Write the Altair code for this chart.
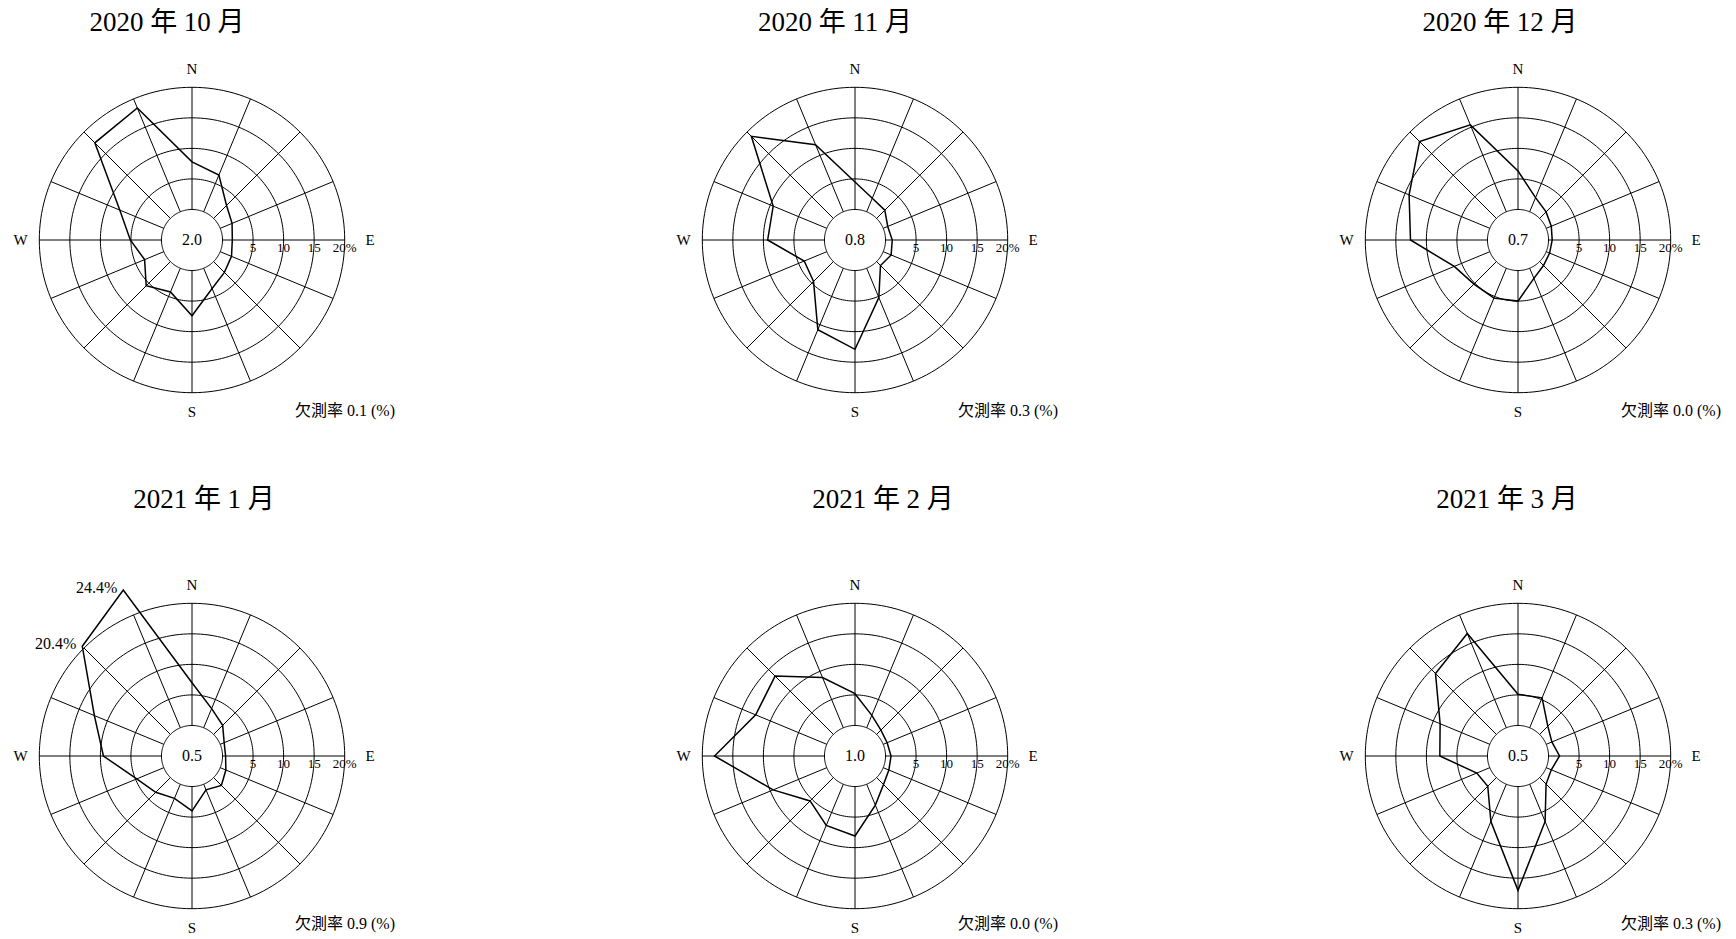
import altair as alt
import pandas as pd

# ---------------- data ----------------
directions = ["N", "NNE", "NE", "ENE", "E", "ESE", "SE", "SSE",
              "S", "SSW", "SW", "WSW", "W", "WNW", "NW", "NNW"]
titles = ["2020 年 10 月", "2020 年 11 月", "2020 年 12 月",
          "2021 年 1 月", "2021 年 2 月", "2021 年 3 月"]

freq_2020_10 = [7.8, 6.5, 3.0, 2.1, 1.6, 2.0, 2.5, 3.6, 7.4, 4.2, 5.6, 3.4, 5.1, 7.8, 17.5, 18.4]
freq_2020_11 = [4.5, 2.4, 1.9, 0.8, 1.1, 1.4, 0.9, 5.2, 12.9, 10.9, 4.6, 4.0, 9.3, 9.5, 19.0, 11.9]
freq_2020_12 = [6.3, 2.5, 1.5, 0.9, 0.6, 0.6, 0.9, 1.8, 5.0, 5.3, 5.2, 6.3, 12.6, 14.3, 17.8, 15.4]
freq_2021_01 = [7.0, 3.4, 2.1, 0.7, 0.5, 1.0, 1.8, 1.0, 4.0, 2.5, 3.4, 4.8, 9.5, 12.3, 20.4, 24.4]
freq_2021_02 = [5.2, 2.2, 1.0, 0.7, 0.9, 1.0, 1.6, 3.7, 8.1, 7.3, 5.4, 9.5, 18.0, 12.6, 13.5, 8.9]
freq_2021_03 = [5.1, 5.3, 1.9, 1.0, 1.8, 0.9, 1.5, 6.6, 17.0, 6.6, 2.0, 2.3, 7.8, 8.8, 14.1, 16.7]
freqs = [freq_2020_10, freq_2020_11, freq_2020_12, freq_2021_01, freq_2021_02, freq_2021_03]

calm = [2.0, 0.8, 0.7, 0.5, 1.0, 0.5]
missing = [0.1, 0.3, 0.0, 0.9, 0.0, 0.3]

ring_values = [0, 5, 10, 15, 20]
tick_labels = ["5", "10", "15", "20%"]
cardinal = ["N", "E", "S", "W"]
cardinal_dir = [0, 4, 8, 12]

# ---------------- layout / style ----------------
PX = 6.108          # pixels per percent
R0 = 5              # radius of calm circle, in percent units
FONT = "Liberation Serif, Noto Sans CJK JP"
COL_W = [663, 663, 394]
ROW_H = [470, 453]
CX = 184
ROW_CY = [231, 277]
TITLE_UP = [217, 256]
BOTTOM_DOWN = [171, 168]
TITLE_DX = [-25, -20, -18, 12, 28, -11]


def build_panel(k, width, height, cy, title_up, bottom_down, title_dx):
    xs = alt.Scale(domain=[-CX / PX, (width - CX) / PX], nice=False, zero=False)
    ys = alt.Scale(domain=[-(height - cy) / PX, cy / PX], nice=False, zero=False)
    X = alt.X("x:Q", scale=xs, axis=None)
    Y = alt.Y("y:Q", scale=ys, axis=None)

    ring_df = pd.DataFrame([(rv, a) for rv in ring_values for a in range(0, 360, 2)],
                           columns=["ring", "deg"])
    rings = alt.Chart(ring_df).transform_calculate(
        x=f"({R0}+datum.ring)*sin(datum.deg*PI/180)",
        y=f"({R0}+datum.ring)*cos(datum.deg*PI/180)",
    ).mark_line(color="black", strokeWidth=1, interpolate="linear-closed").encode(
        x=X, y=Y, detail="ring:N", order="deg:Q")

    rmax = R0 + ring_values[-1]
    spoke_df = pd.DataFrame({"dir": list(range(16)), "name": directions})
    spokes = alt.Chart(spoke_df).transform_calculate(
        x=f"{R0}*sin(datum.dir*PI/8)", y=f"{R0}*cos(datum.dir*PI/8)",
        x2=f"{rmax}*sin(datum.dir*PI/8)", y2=f"{rmax}*cos(datum.dir*PI/8)",
    ).mark_rule(color="black", strokeWidth=1).encode(
        x=X, y=Y, x2="x2:Q", y2="y2:Q")

    poly_df = pd.DataFrame({"dir": list(range(16)), "name": directions, "value": freqs[k]})
    poly_base = alt.Chart(poly_df).transform_calculate(
        x=f"({R0}+datum.value)*sin(datum.dir*PI/8)",
        y=f"({R0}+datum.value)*cos(datum.dir*PI/8)",
    )
    poly = poly_base.mark_line(color="black", strokeWidth=1.5,
                               interpolate="linear-closed").encode(x=X, y=Y, order="dir:Q")
    big = poly_base.transform_filter(f"datum.value > {ring_values[-1]}").transform_calculate(
        label="format(datum.value, '.1f') + '%'"
    ).mark_text(font=FONT, fontSize=16, align="right", baseline="middle", dx=-6, dy=-2,
                color="black").encode(x=X, y=Y, text="label:N")

    card_df = pd.DataFrame({"name": cardinal, "dir": cardinal_dir})
    cards = alt.Chart(card_df).transform_calculate(
        r=f"datum.dir == 4 ? {178 / PX} : {171.5 / PX}",
        x="datum.r*sin(datum.dir*PI/8)", y="datum.r*cos(datum.dir*PI/8)",
    ).mark_text(font=FONT, fontSize=15, align="center", baseline="middle",
                color="black").encode(x=X, y=Y, text="name:N")

    tick_df = pd.DataFrame({"ring": ring_values[1:], "label": tick_labels})
    ticks = alt.Chart(tick_df).transform_calculate(
        x=f"{R0}+datum.ring", y="0",
    ).mark_text(font=FONT, fontSize=13, align="center", baseline="top", dy=2,
                color="black").encode(x=X, y=Y, text="label:N")

    calm_df = pd.DataFrame({"calm": [calm[k]]})
    calm_t = alt.Chart(calm_df).transform_calculate(
        x="0", y="0", label="format(datum.calm, '.1f')",
    ).mark_text(font=FONT, fontSize=16, align="center", baseline="middle",
                color="black").encode(x=X, y=Y, text="label:N")

    miss_df = pd.DataFrame({"miss": [missing[k]]})
    miss_t = alt.Chart(miss_df).transform_calculate(
        x=f"{203 / PX}", y=f"{-bottom_down / PX}",
        label="'欠測率 ' + format(datum.miss, '.1f') + ' (%)'",
    ).mark_text(font=FONT, fontSize=16, align="right", baseline="middle",
                color="black").encode(x=X, y=Y, text="label:N")

    title_df = pd.DataFrame({"title": [titles[k]]})
    title_t = alt.Chart(title_df).transform_calculate(
        x=f"{title_dx / PX}", y=f"{title_up / PX}",
    ).mark_text(font=FONT, fontSize=27, align="center", baseline="middle",
                color="black").encode(x=X, y=Y, text="title:N")

    return alt.layer(rings, spokes, poly, big, cards, ticks, calm_t, miss_t, title_t).properties(
        width=width, height=height)


rows = []
for r in range(2):
    panels = []
    for c in range(3):
        k = r * 3 + c
        panels.append(build_panel(k, COL_W[c], ROW_H[r], ROW_CY[r], TITLE_UP[r],
                                  BOTTOM_DOWN[r], TITLE_DX[k]))
    rows.append(alt.hconcat(*panels, spacing=0))

chart = alt.vconcat(*rows, spacing=0).properties(padding=0).configure_view(stroke=None)
chart.save("out.html", embed_options={"renderer": "svg", "actions": False})
